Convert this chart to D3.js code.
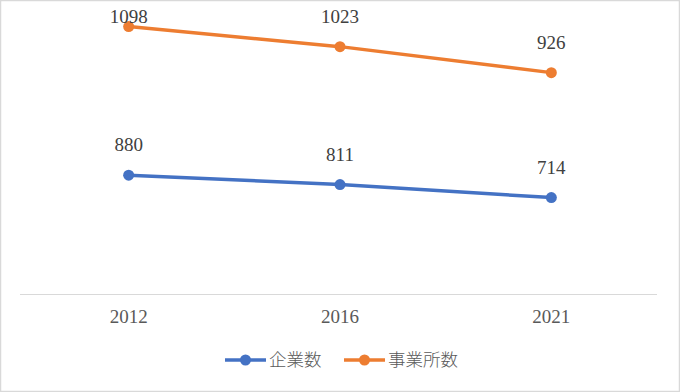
<!DOCTYPE html>
<html><head><meta charset="utf-8">
<script src="https://cdn.jsdelivr.net/npm/d3@7"></script>
<style>html,body{margin:0;padding:0;background:#fff;}svg{display:block;}</style>
</head><body>
<svg id="chart" width="680" height="392"></svg>
<script>
const years = ["2012", "2016", "2021"];
const companies = [880, 811, 714];        // 企業数
const establishments = [1098, 1023, 926];  // 事業所数
const seriesNames = ["企業数", "事業所数"];
const seriesColors = ["#4472C4", "#ED7D31"];

const svg = d3.select("#chart");
const W = 680, H = 392;
const plot = {left: 23, right: 657, top: 24, bottom: 294};

svg.append("rect").attr("x", 0.5).attr("y", 0.5).attr("width", W - 1).attr("height", H - 1)
  .attr("fill", "#fff").attr("stroke", "#d9d9d9").attr("stroke-width", 1.5);

const x = d3.scaleBand().domain(years).range([plot.left, plot.right]);
const yPrimary = d3.scaleLinear().domain([0, 2000]).range([plot.bottom, plot.top]);
const ySecondary = d3.scaleLinear().domain([100, 1100]).range([plot.bottom, 26]);

// baseline axis
const xAxis = d3.axisBottom(x).tickSize(0).tickPadding(16);
const gx = svg.append("g").attr("transform", `translate(0,${plot.bottom})`).call(xAxis);
gx.select(".domain").attr("stroke", "#d9d9d9").attr("stroke-width", 1)
  .attr("d", `M${plot.left - 3},0.5H${plot.right}`);
gx.selectAll("text").attr("font-family", "'Liberation Serif', serif").attr("font-size", 19)
  .attr("fill", "#595959");

const series = [
  {name: seriesNames[0], values: companies, color: seriesColors[0], y: yPrimary},
  {name: seriesNames[1], values: establishments, color: seriesColors[1], y: ySecondary}
];

const cx = d => x(d) + x.bandwidth() / 2;

series.forEach(s => {
  const pts = years.map((yr, i) => ({yr, v: s.values[i]}));
  const line = d3.line().x(d => cx(d.yr)).y(d => s.y(d.v));
  svg.append("path").datum(pts).attr("d", line).attr("fill", "none")
    .attr("stroke", s.color).attr("stroke-width", 3.5).attr("stroke-linejoin", "round");
  svg.selectAll(null).data(pts).enter().append("circle")
    .attr("cx", d => cx(d.yr)).attr("cy", d => s.y(d.v)).attr("r", 5.5).attr("fill", s.color);
  svg.selectAll(null).data(pts).enter().append("text")
    .attr("x", d => cx(d.yr))
    .attr("y", d => Math.max(s.y(d.v) - 24, 23))
    .attr("text-anchor", "middle")
    .attr("font-family", "'Liberation Serif', serif").attr("font-size", 19)
    .attr("fill", "#404040").text(d => d.v);
});

// legend
const legendItems = [
  {name: seriesNames[0], color: seriesColors[0], x0: 225},
  {name: seriesNames[1], color: seriesColors[1], x0: 344}
];
const ly = 360;
legendItems.forEach(it => {
  const g = svg.append("g");
  g.append("line").attr("x1", it.x0).attr("x2", it.x0 + 41).attr("y1", ly).attr("y2", ly)
    .attr("stroke", it.color).attr("stroke-width", 3.5);
  g.append("circle").attr("cx", it.x0 + 20.5).attr("cy", ly).attr("r", 5.5).attr("fill", it.color);
  g.append("text").attr("x", it.x0 + 44).attr("y", ly + 6)
    .attr("font-family", "'Noto Sans CJK JP', sans-serif").attr("font-size", 17.5)
    .attr("font-weight", 300)
    .attr("fill", "#595959").text(it.name);
});
</script>
</body></html>
